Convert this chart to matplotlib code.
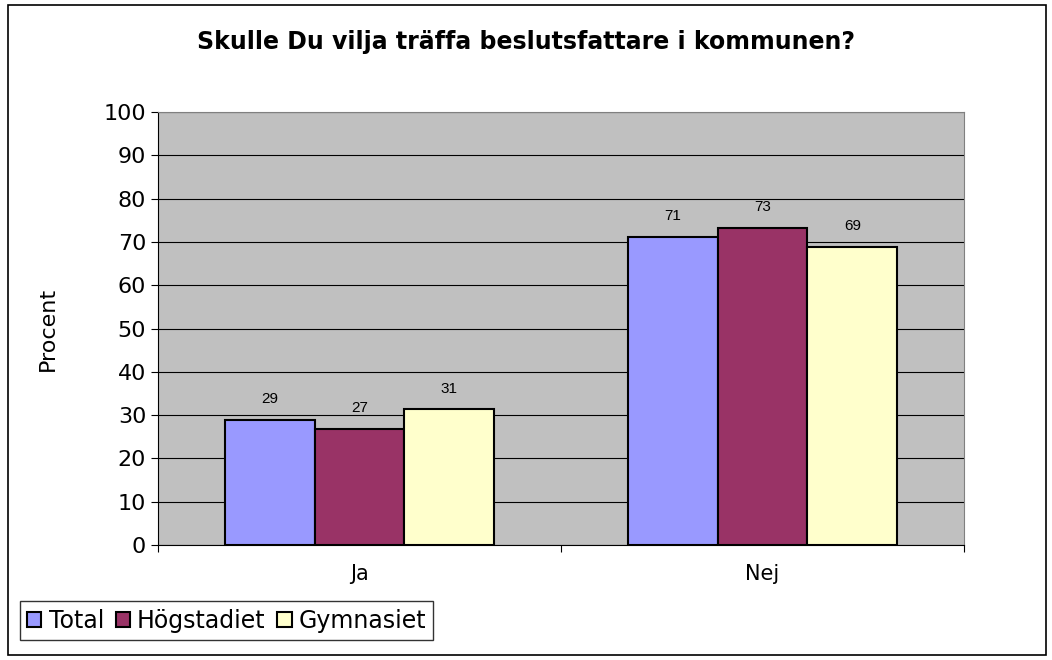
import numpy as np
import matplotlib.pyplot as plt
from matplotlib.patches import Rectangle

categories = ["Ja", "Nej"]
series = ["Total", "Högstadiet", "Gymnasiet"]
total = [28.9, 71.2]
hogstadiet = [26.9, 73.2]
gymnasiet = [31.3, 68.8]
colors = ["#9999FF", "#993366", "#FFFFCC"]

fig = plt.figure(figsize=(10.52, 6.6), dpi=100)
ax = fig.add_axes([0.1502, 0.1742, 0.7662, 0.6561])
ax.set_facecolor("#C0C0C0")

# outer chart border
fig.patches.append(Rectangle((0.008, 0.007), 0.986, 0.986, transform=fig.transFigure,
                             fill=False, edgecolor="black", linewidth=1.2))

x = np.arange(len(categories)) + 0.5
width = 0.223
for i, (name, vals) in enumerate(zip(series, [total, hogstadiet, gymnasiet])):
    pos = x + (i - 1) * width
    ax.bar(pos, vals, width, color=colors[i], edgecolor="black", linewidth=1.5,
           label=name, zorder=3)
    for p, v in zip(pos, vals):
        ax.text(p, v + 3.2, "%d" % round(v), ha="center", va="bottom",
                fontsize=11, family="Liberation Sans")

ax.set_xlim(0, 2)
ax.set_ylim(0, 100)
ax.set_yticks(range(0, 101, 10))
ax.yaxis.grid(True, color="black", linewidth=0.8, zorder=0)
ax.set_axisbelow(True)

ax.set_xticks([0, 1, 2])
ax.set_xticklabels([])
ax.set_xticks(x, minor=True)
ax.set_xticklabels(categories, minor=True, fontsize=15)
ax.tick_params(axis="x", which="minor", length=0, pad=14)
ax.tick_params(axis="x", which="major", length=5, direction="out")
ax.tick_params(axis="y", labelsize=16, length=5)

for s in ["top", "right"]:
    ax.spines[s].set_color("#808080")
ax.spines["left"].set_color("black")
ax.spines["bottom"].set_color("black")

ax.set_ylabel("Procent", fontsize=16, labelpad=33)
fig.text(0.5, 0.936, "Skulle Du vilja träffa beslutsfattare i kommunen?",
         ha="center", va="center", fontsize=17, fontweight="bold")

leg = fig.legend(loc="lower left", bbox_to_anchor=(0.008, 0.013), ncol=3,
                 fontsize=17, frameon=True, fancybox=False, edgecolor="black",
                 handlelength=0.6, handleheight=0.6, handletextpad=0.3,
                 columnspacing=0.5, borderpad=0.3)
leg.get_frame().set_linewidth(1.0)

fig.savefig("out.png", dpi=100)
